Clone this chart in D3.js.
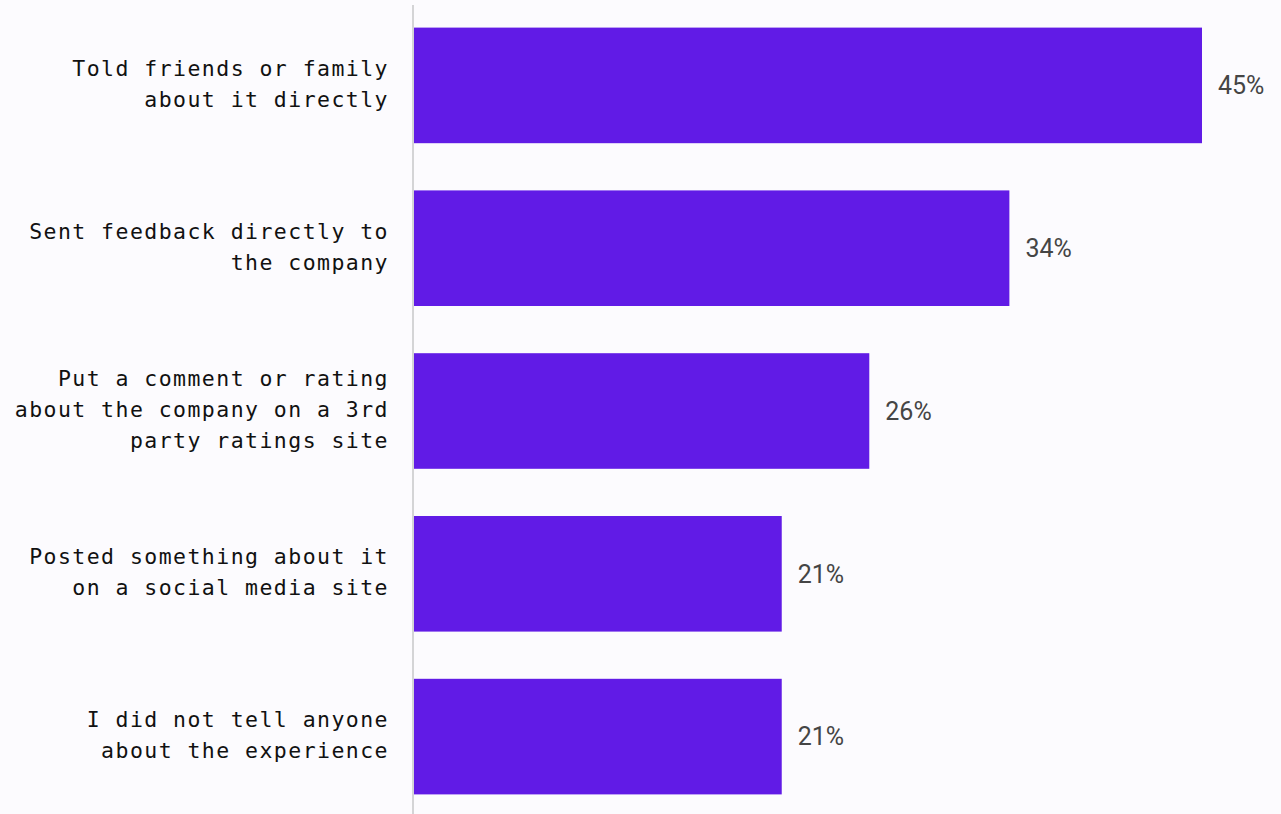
<!DOCTYPE html>
<html>
<head>
<meta charset="utf-8">
<script src="https://cdn.jsdelivr.net/npm/d3@7"></script>
<style>
  html, body { margin: 0; padding: 0; background: #fcfbfe; }
  svg { display: block; }
</style>
</head>
<body>
<svg id="chart" width="1281" height="814"></svg>
<script>
// Responses to a customer experience, share of respondents
const categories = [
  ["Told friends or family", "about it directly"],
  ["Sent feedback directly to", "the company"],
  ["Put a comment or rating", "about the company on a 3rd", "party ratings site"],
  ["Posted something about it", "on a social media site"],
  ["I did not tell anyone", "about the experience"]
];
const values = [45, 34, 26, 21, 21];
const valueLabels = ["45%", "34%", "26%", "21%", "21%"];

const W = 1281, H = 814;
const left = 414;
const svg = d3.select("#chart");

const y = d3.scaleBand()
  .domain(d3.range(categories.length))
  .range([4, 818])
  .paddingInner(0.29)
  .paddingOuter(0.145);

const x = d3.scaleLinear()
  .domain([0, 45])
  .range([left, 1202]);

// bars
svg.append("g")
  .selectAll("rect")
  .data(values)
  .join("rect")
  .attr("x", x(0))
  .attr("y", (d, i) => y(i))
  .attr("width", d => x(d) - x(0))
  .attr("height", y.bandwidth())
  .attr("fill", "#611be6");

// baseline
svg.append("line")
  .attr("x1", left - 1).attr("x2", left - 1)
  .attr("y1", 5).attr("y2", H)
  .attr("stroke", "#d4d4d6")
  .attr("stroke-width", 2);

// value labels
svg.append("g")
  .selectAll("text")
  .data(values)
  .join("text")
  .attr("x", d => x(d) + 16)
  .attr("y", (d, i) => y(i) + y.bandwidth() / 2)
  .attr("dy", "0.35em")
  .attr("font-family", "Roboto, sans-serif")
  .attr("font-size", 25)
  .attr("fill", "#454545")
  .text((d, i) => valueLabels[i]);

// category labels
const lineH = 31;
const labels = svg.append("g")
  .selectAll("text")
  .data(categories)
  .join("text")
  .attr("text-anchor", "end")
  .attr("font-family", "'DejaVu Sans Mono', monospace")
  .attr("font-size", 21.5)
  .attr("letter-spacing", 1.45)
  .attr("fill", "#111111");

labels.each(function(lines, i) {
  const cy = y(i) + y.bandwidth() / 2 - 1.5;
  const top = cy - (lines.length - 1) * lineH / 2;
  d3.select(this).selectAll("tspan")
    .data(lines)
    .join("tspan")
    .attr("x", 389)
    .attr("y", (d, j) => top + j * lineH)
    .attr("dy", "0.35em")
    .text(d => d);
});
</script>
</body>
</html>
